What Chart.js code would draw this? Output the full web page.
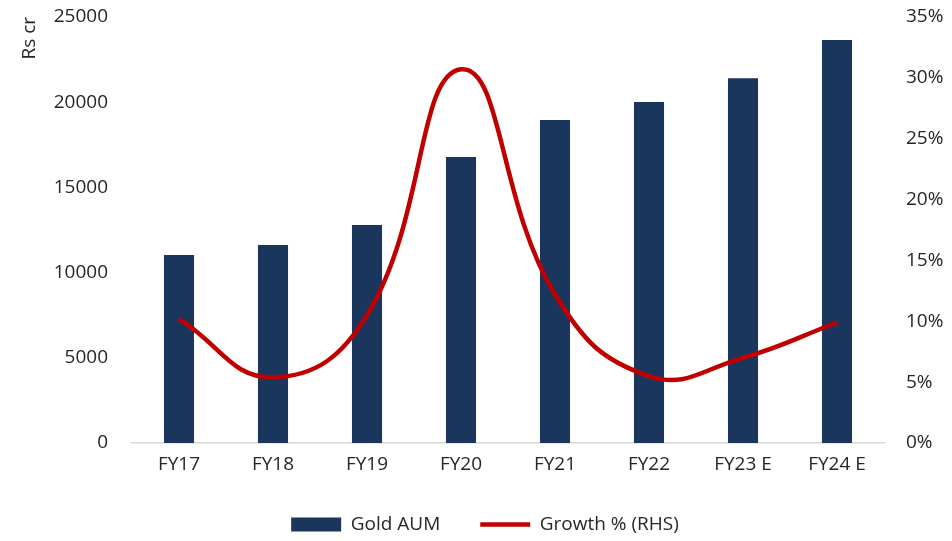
<!DOCTYPE html>
<html>
<head>
<meta charset="utf-8">
<script src="https://cdn.jsdelivr.net/npm/chart.js@4"></script>
<style>
  html, body { margin: 0; padding: 0; background: #fff; }
  #wrap { width: 952px; height: 541px; position: relative; }
</style>
</head>
<body>
<div id="wrap"><canvas id="c" width="952" height="541"></canvas></div>
<script>
const categories = ['FY17', 'FY18', 'FY19', 'FY20', 'FY21', 'FY22', 'FY23 E', 'FY24 E'];
const goldAUM = [11030, 11620, 12790, 16780, 18960, 20010, 21400, 23650];
const growthPct = [10.2, 5.4, 10.5, 30.7, 12.2, 5.5, 7.0, 9.9];
const leftTicks = [0, 5000, 10000, 15000, 20000, 25000];
const rightTicks = [0, 5, 10, 15, 20, 25, 30, 35];

const FONT = "'Open Sans', 'Liberation Sans', sans-serif";
const TXT = '#262626';

function fixVertical(scale, width) {
  scale.width = width;
  scale.paddingTop = 17;
  scale.paddingBottom = 12;
}

new Chart(document.getElementById('c'), {
  data: {
    labels: categories,
    datasets: [
      {
        type: 'bar',
        label: 'Gold AUM',
        data: goldAUM,
        backgroundColor: '#1B365D',
        borderWidth: 0,
        barPercentage: 0.32,
        categoryPercentage: 1,
        yAxisID: 'y',
        order: 2
      },
      {
        type: 'line',
        label: 'Growth % (RHS)',
        data: growthPct,
        borderColor: '#C00000',
        backgroundColor: '#C00000',
        borderWidth: 4.5,
        pointRadius: 0,
        tension: 0.45,
        yAxisID: 'y1',
        order: 1
      }
    ]
  },
  options: {
    responsive: false,
    animation: false,
    layout: { padding: { left: 18, right: 0, top: 0, bottom: -3 } },
    plugins: {
      tooltip: { enabled: false },
      legend: {
        position: 'bottom',
        labels: {
          font: { family: FONT, size: 19 },
          color: TXT,
          usePointStyle: true,
          pointStyleWidth: 50,
          boxHeight: 14,
          padding: 40,
          generateLabels(chart) {
            return chart.data.datasets.map((ds, i) => ({
              text: ds.label,
              fillStyle: ds.backgroundColor,
              strokeStyle: ds.type === 'line' ? ds.borderColor : ds.backgroundColor,
              lineWidth: ds.type === 'line' ? 4.5 : 0,
              pointStyle: ds.type === 'line' ? 'line' : 'rect',
              fontColor: TXT,
              hidden: false,
              datasetIndex: i
            }));
          }
        }
      }
    },
    scales: {
      x: {
        offset: true,
        grid: { display: false, drawTicks: false },
        border: { display: true, color: '#D9D9D9', width: 1.5 },
        ticks: { font: { family: FONT, size: 19 }, color: TXT, padding: 10, maxRotation: 0 },
        afterFit(scale) { scale.height = 32; }
      },
      y: {
        position: 'left',
        min: 0,
        max: 25000,
        afterBuildTicks(scale) { scale.ticks = leftTicks.map(v => ({ value: v })); },
        grid: { display: false, drawTicks: false },
        border: { display: false },
        ticks: { font: { family: FONT, size: 19 }, color: TXT, padding: 24, callback: v => String(v) },
        title: {
          display: true,
          text: 'Rs cr',
          align: 'end',
          color: TXT,
          font: { family: FONT, size: 19 },
          padding: 0
        },
        afterFit(scale) { fixVertical(scale, 114); }
      },
      y1: {
        position: 'right',
        min: 0,
        max: 35,
        afterBuildTicks(scale) { scale.ticks = rightTicks.map(v => ({ value: v })); },
        grid: { display: false, drawTicks: false },
        border: { display: false },
        ticks: {
          font: { family: FONT, size: 19 },
          color: TXT,
          padding: 22,
          callback: v => v + '%'
        },
        afterFit(scale) { fixVertical(scale, 68); }
      }
    }
  }
});
</script>
</body>
</html>
